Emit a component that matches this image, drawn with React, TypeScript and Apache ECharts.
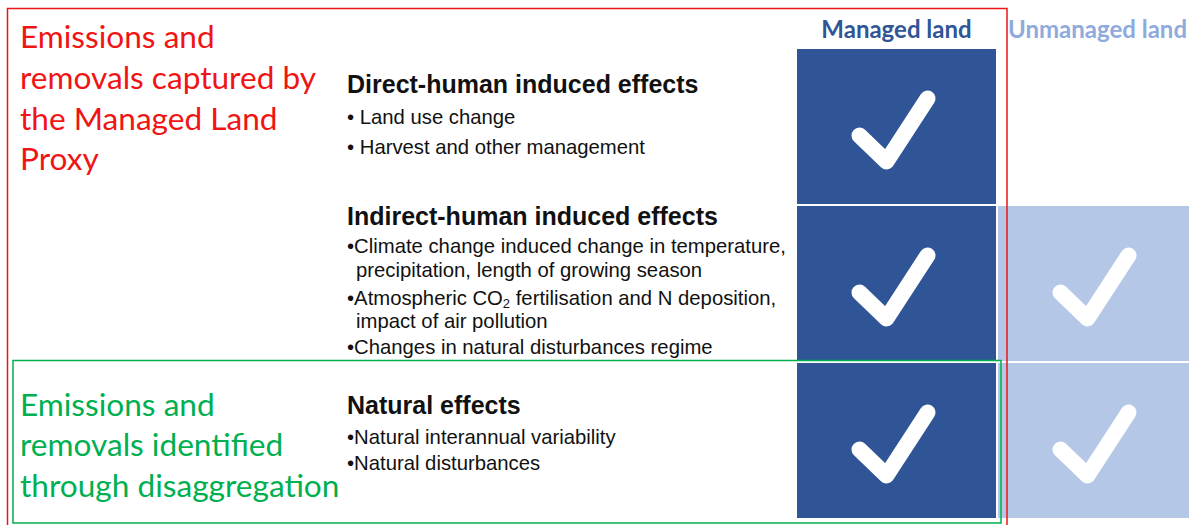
import React, { useEffect, useRef } from "react";
import * as echarts from "echarts";

// ---- data ----
const columns = ["Managed land", "Unmanaged land"];
const rowKeys = [
  "Direct-human induced effects",
  "Indirect-human induced effects",
  "Natural effects",
];
const managedChecks = [1, 1, 1];
const unmanagedChecks = [0, 1, 1];

const redLabel = ["Emissions and", "removals captured by", "the Managed Land", "Proxy"];
const greenLabel = ["Emissions and", "removals identified", "through disaggregation"];

const directLines = ["• Land use change", "• Harvest and other management"];
const indirectLines = [
  "•Climate change induced change in temperature,",
  "precipitation, length of growing season",
  "•Atmospheric CO{sub|2} fertilisation and N deposition,",
  "impact of air pollution",
  "•Changes in natural disturbances regime",
];
const naturalLines = ["•Natural interannual variability", "•Natural disturbances"];

// ---- styles ----
const DARK = "#2F5597";
const LIGHT = "#B4C7E7";
const RED = "#F01414";
const GREEN = "#00B050";
const INK = "#111111";
const HEAD_FONT = 'bold 25px "Liberation Sans", Arial, sans-serif';
const BODY_FONT = '20.3px "Liberation Sans", Arial, sans-serif';
const SIDE_FONT = '31.6px Lato, "Open Sans", sans-serif';

function txt(text: string, x: number, y: number, font: string, fill: string, extra: any = {}) {
  return {
    type: "text",
    x,
    y,
    z: 5,
    style: {
      text,
      font,
      fill,
      textAlign: "left",
      align: "left",
      textVerticalAlign: "middle",
      verticalAlign: "middle",
      ...extra,
    },
  };
}

export default function App() {
  const ref = useRef<HTMLDivElement>(null);

  useEffect(() => {
    if (!ref.current) return;
    const chart = echarts.init(ref.current, undefined, { renderer: "svg" });

    const cells: number[][] = [];
    rowKeys.forEach((_, r) => {
      if (managedChecks[r]) cells.push([0, r]);
      if (unmanagedChecks[r]) cells.push([1, r]);
    });

    const graphics: any[] = [];
    // side labels
    const redYs = [36, 77, 118, 158];
    redLabel.forEach((t, i) => graphics.push(txt(t, 20, redYs[i], SIDE_FONT, RED)));
    const greenYs = [404, 444, 485];
    greenLabel.forEach((t, i) => graphics.push(txt(t, 20, greenYs[i], SIDE_FONT, GREEN)));

    // middle texts
    graphics.push(txt(rowKeys[0], 347, 84, HEAD_FONT, INK));
    const dYs = [117, 147];
    directLines.forEach((t, i) => graphics.push(txt(t, 347, dYs[i], BODY_FONT, INK)));

    graphics.push(txt(rowKeys[1], 347, 216, HEAD_FONT, INK));
    const iYs = [246, 270, 298, 321, 347];
    indirectLines.forEach((t, i) => {
      const x = t.startsWith("•") ? 347 : 356;
      graphics.push(
        txt(t, x, iYs[i], BODY_FONT, INK, {
          lineHeight: 24,
          rich: {
            sub: {
              font: '13px "Liberation Sans", Arial, sans-serif',
              fill: INK,
              lineHeight: 13,
              verticalAlign: "bottom",
            },
          },
        })
      );
    });

    graphics.push(txt(rowKeys[2], 347, 405, HEAD_FONT, INK));
    const nYs = [437, 463];
    naturalLines.forEach((t, i) => graphics.push(txt(t, 347, nYs[i], BODY_FONT, INK)));

    // frames
    graphics.push({
      type: "rect",
      z: 10,
      shape: { x: 7.5, y: 8.5, width: 999.5, height: 530 },
      style: { fill: "none", stroke: RED, lineWidth: 1.5 },
    });
    graphics.push({
      type: "rect",
      z: 10,
      shape: { x: 13, y: 360.5, width: 988, height: 162.5 },
      style: { fill: "none", stroke: GREEN, lineWidth: 1.5 },
    });

    chart.setOption({
      animation: false,
      backgroundColor: "#ffffff",
      grid: {
        left: 796,
        top: 48,
        width: 402,
        height: 471,
        containLabel: false,
        outerBoundsMode: "none",
      },
      xAxis: {
        type: "category",
        data: columns,
        position: "top",
        axisLine: { show: false },
        axisTick: { show: false },
        splitLine: { show: false },
        axisLabel: {
          margin: 8,
          interval: 0,
          hideOverlap: false,
          fontFamily: 'Lato, "Open Sans", sans-serif',
          fontWeight: "bold",
          fontSize: 24,
          color: (_v: any, i: number) => (i === 0 ? DARK : "#8FAADC"),
        },
      },
      yAxis: {
        type: "category",
        data: rowKeys,
        inverse: true,
        show: false,
      },
      series: [
        {
          type: "custom",
          data: cells,
          encode: { x: 0, y: 1 },
          clip: false,
          renderItem: (_p: any, api: any) => {
            const c = api.value(0);
            const r = api.value(1);
            const [cx, cy] = api.coord([c, r]);
            const [w, h] = api.size([1, 1]);
            return {
              type: "group",
              children: [
                {
                  type: "rect",
                  shape: { x: cx - w / 2 + 1, y: cy - h / 2 + 1, width: w - 2, height: h - 2 },
                  style: { fill: c === 0 ? DARK : LIGHT },
                },
                {
                  type: "polyline",
                  shape: {
                    points: [
                      [cx - 37, cy + 9],
                      [cx - 10, cy + 35],
                      [cx + 31, cy - 28],
                    ],
                  },
                  style: {
                    fill: null,
                    stroke: "#ffffff",
                    lineWidth: 16,
                    lineCap: "round",
                    lineJoin: "round",
                  },
                },
              ],
            };
          },
        },
      ],
      graphic: graphics,
    });

    return () => chart.dispose();
  }, []);

  return (
    <div
      ref={ref}
      style={{ position: "fixed", left: 0, top: 0, width: 1189, height: 525, background: "#fff" }}
    />
  );
}
